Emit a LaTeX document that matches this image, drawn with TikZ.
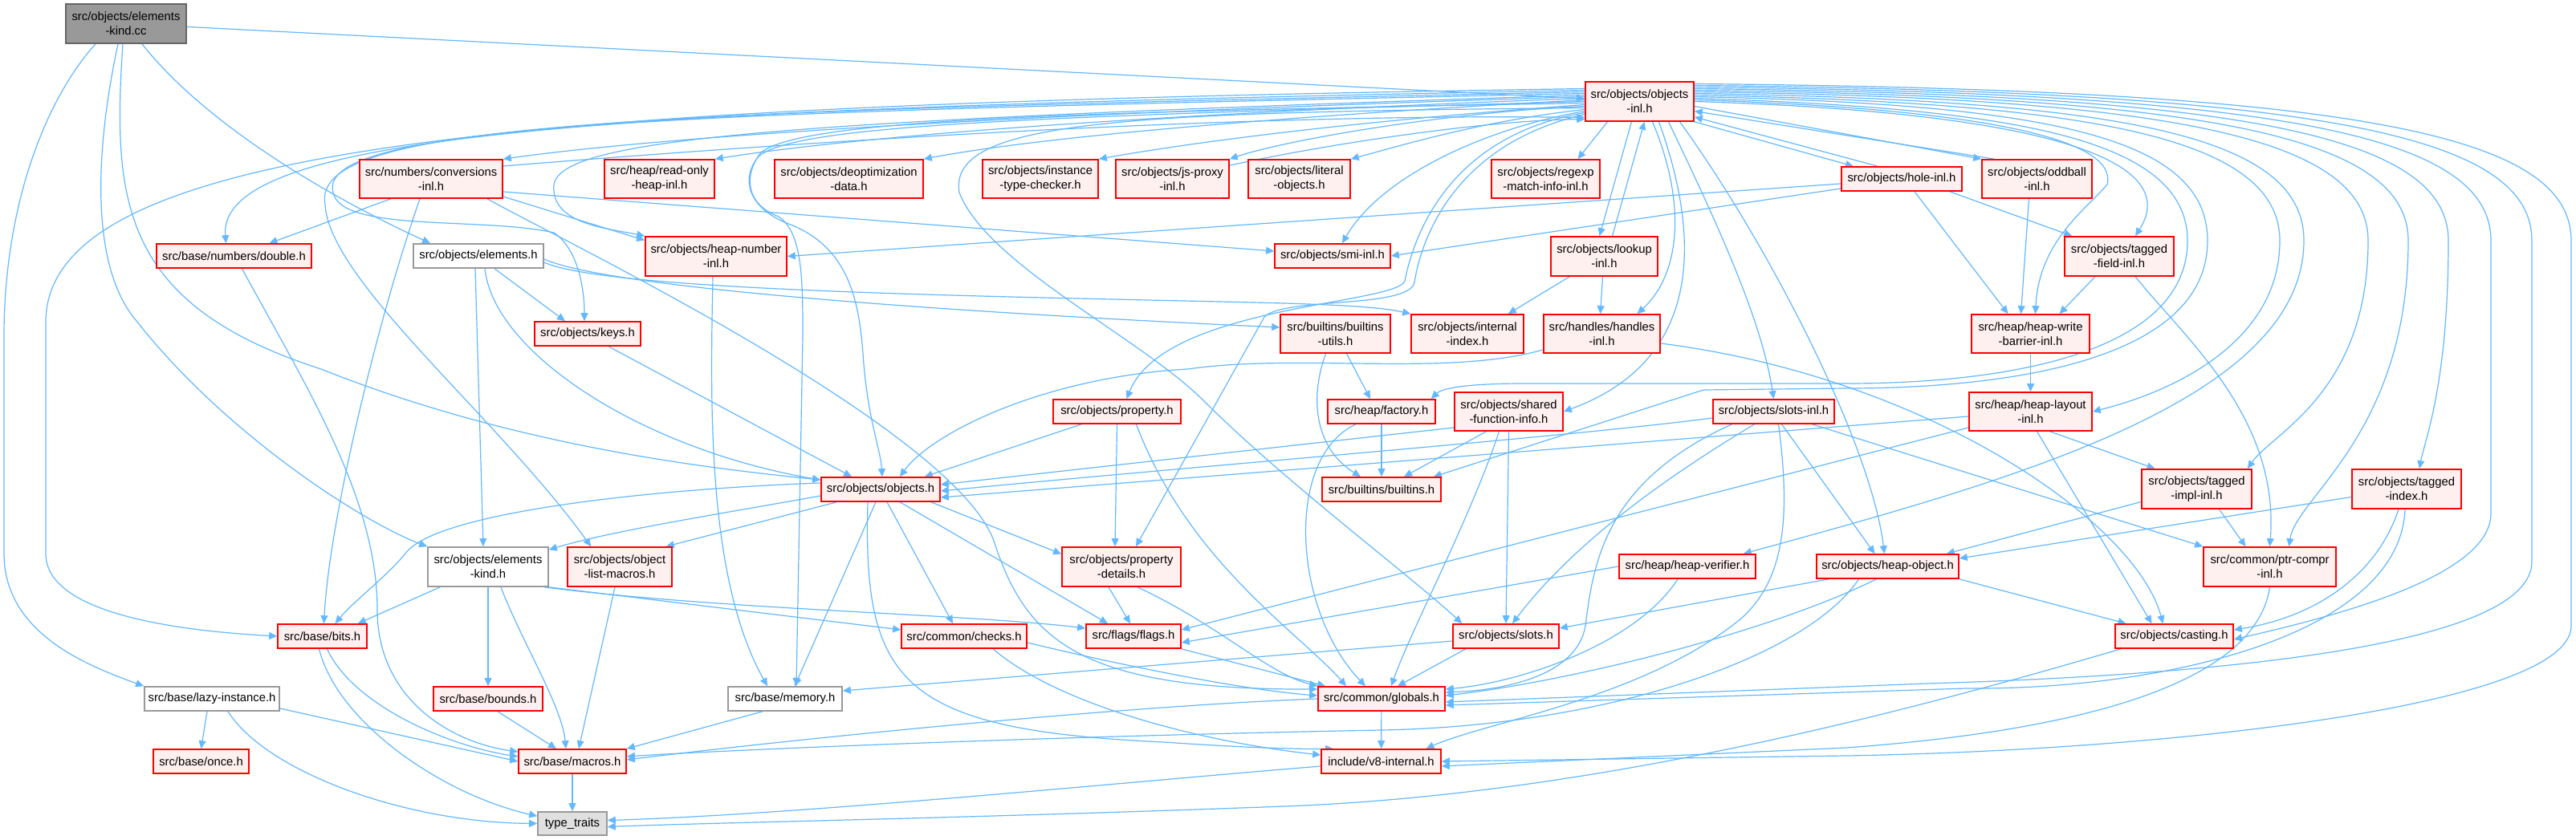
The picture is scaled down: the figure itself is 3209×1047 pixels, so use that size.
\documentclass[tikz,border=0pt]{standalone}
\usepackage{fontspec}
\setmainfont{Liberation Sans}
\usetikzlibrary{arrows.meta}
\definecolor{eb}{HTML}{63B8FF}
\definecolor{rb}{HTML}{FF0000}
\definecolor{rf}{HTML}{FFF0F0}
\definecolor{gb}{HTML}{999999}
\definecolor{db}{HTML}{666666}
\definecolor{tf}{HTML}{E0E0E0}
\pgfdeclarelayer{bg}
\pgfsetlayers{bg,main}
\begin{document}
\begin{tikzpicture}[x=0.5pt,y=-0.5pt,
  box/.style={draw, line width=0.8pt, inner sep=0pt, align=center, font=\fontsize{7.4}{9}\selectfont},
  rn/.style={box, draw=rb, fill=rf},
  wn/.style={box, draw=gb, fill=white},
  gn/.style={box, draw=db, fill=gb},
  tn/.style={box, draw=gb, fill=tf},
  sz/.style 2 args={minimum width=#1*0.5pt, minimum height=#2*0.5pt},
  e/.style={draw=eb, line width=0.6pt, -{Triangle[length=5pt,width=4.5pt]}}]
\useasboundingbox (0,0) rectangle (3209,1047);

\node[gn, sz={150}{49}] (ekcc) at (157,29.5) {src/objects/elements\\-kind.cc};
\node[rn, sz={135}{49}] (objinl) at (2042.5,126.5) {src/objects/objects\\-inl.h};
\node[rn, sz={178}{48}] (conv) at (537,223) {src/numbers/conversions\\-inl.h};
\node[rn, sz={137}{48}] (roheap) at (821.5,223) {src/heap/read-only\\-heap-inl.h};
\node[rn, sz={185}{48}] (deopt) at (1057.5,223) {src/objects/deoptimization\\-data.h};
\node[rn, sz={144}{48}] (itc) at (1296,223) {src/objects/instance\\-type-checker.h};
\node[rn, sz={141}{48}] (jsproxy) at (1460.5,223) {src/objects/js-proxy\\-inl.h};
\node[rn, sz={127}{48}] (literal) at (1618.5,223) {src/objects/literal\\-objects.h};
\node[rn, sz={135}{48}] (regexp) at (1925.5,223) {src/objects/regexp\\-match-info-inl.h};
\node[rn, sz={150}{30}] (hole) at (2369,223) {src/objects/hole-inl.h};
\node[rn, sz={137}{48}] (oddball) at (2537.5,223) {src/objects/oddball\\-inl.h};
\node[rn, sz={193}{30}] (double) at (291.5,319) {src/base/numbers/double.h};
\node[wn, sz={162}{30}] (elemh) at (596,319) {src/objects/elements.h};
\node[rn, sz={176}{49}] (heapnum) at (892,319.5) {src/objects/heap-number\\-inl.h};
\node[rn, sz={144}{30}] (smi) at (1660,319) {src/objects/smi-inl.h};
\node[rn, sz={133}{49}] (lookup) at (1998.5,319.5) {src/objects/lookup\\-inl.h};
\node[rn, sz={136}{49}] (tagfield) at (2640,319.5) {src/objects/tagged\\-field-inl.h};
\node[rn, sz={132}{30}] (keys) at (732,416) {src/objects/keys.h};
\node[rn, sz={137}{48}] (bu) at (1663.5,416) {src/builtins/builtins\\-utils.h};
\node[rn, sz={140}{48}] (iidx) at (1828,416) {src/objects/internal\\-index.h};
\node[rn, sz={145}{48}] (handles) at (1995.5,416) {src/handles/handles\\-inl.h};
\node[rn, sz={147}{48}] (hwb) at (2529.5,416) {src/heap/heap-write\\-barrier-inl.h};
\node[rn, sz={134}{30}] (factory) at (1721,513) {src/heap/factory.h};
\node[rn, sz={135}{48}] (sfi) at (1879.5,513) {src/objects/shared\\-function-info.h};
\node[rn, sz={151}{30}] (slotsinl) at (2209.5,513) {src/objects/slots-inl.h};
\node[rn, sz={153}{48}] (hlayout) at (2529.5,513) {src/heap/heap-layout\\-inl.h};
\node[rn, sz={159}{30}] (property) at (1391.5,513) {src/objects/property.h};
\node[rn, sz={148}{30}] (objh) at (1097,610) {src/objects/objects.h};
\node[rn, sz={148}{30}] (builtins) at (1721,610) {src/builtins/builtins.h};
\node[rn, sz={137}{49}] (timpl) at (2736.5,609.5) {src/objects/tagged\\-impl-inl.h};
\node[rn, sz={136}{49}] (tindex) at (2998,609.5) {src/objects/tagged\\-index.h};
\node[wn, sz={150}{49}] (ekh) at (608,706.5) {src/objects/elements\\-kind.h};
\node[rn, sz={130}{49}] (olm) at (772,706.5) {src/objects/object\\-list-macros.h};
\node[rn, sz={148}{49}] (pdet) at (1397,706.5) {src/objects/property\\-details.h};
\node[rn, sz={165}{49}] (ptrc) at (2827.5,706.5) {src/common/ptr-compr\\-inl.h};
\node[rn, sz={170}{30}] (hverif) at (2102,706) {src/heap/heap-verifier.h};
\node[rn, sz={177}{30}] (hobj) at (2351.5,706) {src/objects/heap-object.h};
\node[rn, sz={111}{30}] (bits) at (401.5,793) {src/base/bits.h};
\node[rn, sz={156}{30}] (checks) at (1201,793) {src/common/checks.h};
\node[rn, sz={118}{30}] (flags) at (1412,793) {src/flags/flags.h};
\node[rn, sz={132}{30}] (slots) at (1876,793) {src/objects/slots.h};
\node[rn, sz={147}{30}] (casting) at (2708.5,793) {src/objects/casting.h};
\node[wn, sz={168}{30}] (lazy) at (264,871) {src/base/lazy-instance.h};
\node[rn, sz={136}{30}] (bounds) at (608,871) {src/base/bounds.h};
\node[wn, sz={142}{30}] (memory) at (978,871) {src/base/memory.h};
\node[rn, sz={158}{30}] (globals) at (1721,871) {src/common/globals.h};
\node[rn, sz={119}{30}] (once) at (250.5,949) {src/base/once.h};
\node[rn, sz={134}{30}] (macros) at (713,949) {src/base/macros.h};
\node[rn, sz={149}{30}] (v8int) at (1720.5,949) {include/v8-internal.h};
\node[tn, sz={86}{29}] (tt) at (713,1026.5) {type\_traits};

\begin{pgfonlayer}{bg}
\fill[white] (0,0) rectangle (3209,1047);
% root
\draw[e] (ekcc) -- (objinl);
\draw[e] ([xshift=-19pt]ekcc.south) .. controls (60,120) and (5,250) .. (5,420) -- (5,690) .. controls (5,790) and (110,830) .. (lazy.north west);
\draw[e] ([xshift=-5pt]ekcc.south) .. controls (120,180) and (110,330) .. (170,400) .. controls (280,540) and (450,650) .. (ekh.north west);
\draw[e] ([xshift=-2pt]ekcc.south) .. controls (140,250) and (150,380) .. (400,460) .. controls (650,560) and (900,585) .. ([yshift=-2pt]objh.north west);
\draw[e] ([xshift=10pt]ekcc.south) .. controls (260,160) and (420,250) .. ([xshift=-30pt]elemh.north);

% objects-inl.h to the left
\draw[e] ([yshift=8pt]objinl.west) .. controls (700,130) and (60,170) .. (57,400) -- (57,690) .. controls (57,760) and (200,785) .. (bits.west);
\draw[e] ([yshift=7pt]objinl.west) .. controls (800,135) and (270,160) .. ([xshift=-5pt]double.north);
\draw[e] ([yshift=6pt]objinl.west) .. controls (800,140) and (385,150) .. (405,255) .. controls (410,350) and (620,520) .. ([xshift=15pt]olm.north west);
\draw[e] ([yshift=5pt]objinl.west) .. controls (900,140) and (390,150) .. (415,240) .. controls (425,290) and (600,270) .. (690,290) .. controls (720,310) and (728,360) .. ([xshift=-2pt]keys.north);
\draw[e] ([yshift=4pt]objinl.west) .. controls (1000,150) and (700,170) .. (690,230) .. controls (685,280) and (760,285) .. (heapnum.north west);
\draw[e] ([yshift=3pt]objinl.west) .. controls (1500,135) and (900,160) .. (conv.north east);
\draw[e] ([yshift=8pt]conv.east) .. controls (900,185) and (1500,140) .. ([yshift=-10pt]objinl.west);
\draw[e] ([yshift=2pt]objinl.west) .. controls (1500,140) and (1100,165) .. (roheap.north east);
\draw[e] ([yshift=1pt]objinl.west) .. controls (1600,145) and (1300,170) .. (deopt.north east);
\draw[e] (objinl.west) .. controls (1300,145) and (990,155) .. (945,195) .. controls (920,225) and (935,262) .. (985,280) .. controls (1060,310) and (1070,380) .. (1075,440) .. controls (1080,520) and (1097,560) .. ([xshift=1pt]objh.north);
\draw[e] ([yshift=-1pt]objinl.west) .. controls (1300,140) and (1000,150) .. (948,190) .. controls (925,220) and (930,255) .. (970,270) .. controls (1000,290) and (1000,350) .. (1000,420) -- ([xshift=7pt]memory.north);
\draw[e] ([yshift=-2pt]objinl.west) .. controls (1700,150) and (1500,175) .. (itc.north east);
\draw[e] ([yshift=-3pt]objinl.west) .. controls (1800,140) and (1600,175) .. (jsproxy.north east);
\draw[e] ([yshift=-4pt]jsproxy.north east) .. controls (1650,180) and (1850,150) .. ([yshift=-11pt]objinl.west);
\draw[e] ([yshift=-4pt]objinl.west) .. controls (1400,140) and (1180,150) .. (1195,240) .. controls (1230,330) and (1420,420) .. (1500,500) .. controls (1600,600) and (1760,720) .. ([xshift=6pt]slots.north west);
\draw[e] ([yshift=-5pt]objinl.west) .. controls (1850,150) and (1750,180) .. (literal.north east);
\draw[e] ([yshift=-6pt]objinl.west) .. controls (1850,160) and (1720,220) .. ([xshift=6pt]smi.north);
\draw[e] ([yshift=-7pt]objinl.west) .. controls (1800,170) and (1760,300) .. (1750,350) .. controls (1740,380) and (1450,380) .. ([xshift=6pt]property.north);
\draw[e] ([yshift=-8pt]objinl.west) .. controls (1810,180) and (1770,300) .. (1762,352) .. controls (1755,385) and (1600,370) .. (1575,395) -- ([xshift=9pt]pdet.north);

% objects-inl.h downward
\draw[e] ([xshift=-20pt]objinl.south) -- ([xshift=20pt]regexp.north);
\draw[e] ([xshift=-5pt]objinl.south) -- ([xshift=-3pt]lookup.north);
\draw[e] ([xshift=5pt]lookup.north) -- ([xshift=3pt]objinl.south);
\draw[e] ([xshift=8pt]objinl.south) .. controls (2100,250) and (2095,340) .. ([xshift=22pt]handles.north);
\draw[e] ([xshift=12pt]objinl.south) .. controls (2120,300) and (2120,450) .. (sfi.east);
\draw[e] ([xshift=18pt]objinl.south) .. controls (2140,280) and (2195,400) .. (slotsinl.north);
\draw[e] ([xshift=25pt]objinl.south) .. controls (2200,300) and (2330,550) .. ([xshift=-2pt]hobj.north);
\draw[e] (objinl.south east) -- ([xshift=-30pt]hole.north);
\draw[e] ([xshift=-15pt]hole.north) -- ([yshift=3pt]objinl.south east);
\draw[e] ([yshift=-3pt]objinl.east) -- (oddball.north west);
\draw[e] ([xshift=8pt]oddball.north west) -- ([yshift=-6pt]objinl.east);

% objects-inl.h to the right
\draw[e] (objinl.east) .. controls (2550,140) and (2720,200) .. ([xshift=10pt]tagfield.north);
\draw[e] ([yshift=1pt]objinl.east) .. controls (2450,135) and (2640,170) .. (2625,230) .. controls (2600,260) and (2540,300) .. ([xshift=3pt]hwb.north);
\draw[e] ([yshift=2pt]objinl.east) .. controls (2500,135) and (2725,170) .. (2725,300) .. controls (2725,440) and (2500,478) .. (2300,478) -- (1900,478) .. controls (1820,478) and (1795,485) .. ([xshift=-3pt]factory.north east);
\draw[e] ([yshift=3pt]objinl.east) .. controls (2550,130) and (2750,170) .. (2750,300) .. controls (2750,450) and (2500,484) .. (2300,484) -- (2122,486) -- ([xshift=-5pt]builtins.north east);
\draw[e] ([yshift=4pt]objinl.east) .. controls (2600,128) and (2840,170) .. (2840,300) .. controls (2840,430) and (2700,490) .. (hlayout.east);
\draw[e] ([yshift=5pt]objinl.east) .. controls (2650,125) and (2870,170) .. (2870,300) .. controls (2870,500) and (2500,600) .. ([xshift=-8pt]hverif.north east);
\draw[e] ([yshift=6pt]objinl.east) .. controls (2700,122) and (2950,170) .. (2950,300) .. controls (2950,490) and (2830,540) .. ([xshift=-3pt]timpl.north east);
\draw[e] ([yshift=7pt]objinl.east) .. controls (2750,120) and (3000,170) .. (3000,300) .. controls (3000,540) and (2860,620) .. ([xshift=12pt]ptrc.north);
\draw[e] ([yshift=8pt]objinl.east) .. controls (2800,118) and (3050,170) .. (3050,300) .. controls (3050,480) and (3020,550) .. ([xshift=8pt]tindex.north);
\draw[e] ([yshift=9pt]objinl.east) .. controls (2850,116) and (3103,170) .. (3103,300) -- (3103,640) .. controls (3103,720) and (2900,770) .. ([yshift=-2pt]casting.east);
\draw[e] ([yshift=10pt]objinl.east) .. controls (2900,114) and (3154,170) .. (3154,300) -- (3154,700) .. controls (3154,800) and (2800,840) .. (2400,852) -- ([yshift=-2pt]globals.east);
\draw[e] ([yshift=11pt]objinl.east) .. controls (2950,112) and (3203,170) .. (3203,300) -- (3203,780) .. controls (3203,880) and (2700,935) .. (2300,942) -- (v8int.east);

% conversions-inl.h
\draw[e] ([xshift=-25pt]conv.south) -- ([xshift=22pt]double.north);
\draw[e] ([yshift=-11pt]conv.east) -- ([yshift=10pt]heapnum.west);
\draw[e] ([yshift=-8pt]conv.east) -- ([yshift=3pt]smi.west);
\draw[e] ([xshift=-7pt]conv.south) .. controls (470,400) and (410,650) .. ([xshift=1pt]bits.north);
\draw[e] ([xshift=35pt]conv.south) .. controls (700,300) and (1200,540) .. (1240,680) .. controls (1280,800) and (1350,860) .. ([yshift=6pt]globals.west);

% hole / oddball / lookup / tagged-field
\draw[e] ([yshift=-3pt]hole.west) -- (heapnum.east);
\draw[e] ([yshift=-6pt]hole.west) -- (smi.east);
\draw[e] ([xshift=-8pt]hole.south east) -- ([xshift=5pt]tagfield.north west);
\draw[e] ([xshift=8pt]hole.south) -- ([xshift=-14pt]hwb.north);
\draw[e] ([xshift=-5pt]oddball.south) -- ([xshift=-6pt]hwb.north);
\draw[e] ([xshift=-15pt]tagfield.south) -- ([xshift=18pt]hwb.north);
\draw[e] ([xshift=10pt]tagfield.south) .. controls (2720,420) and (2840,520) .. (ptrc.north);
\draw[e] ([xshift=12pt]lookup.south west) -- ([xshift=-10pt]iidx.north east);
\draw[e] ([xshift=-1pt]lookup.south) -- ([xshift=-1pt]handles.north);

% elements.h / keys.h
\draw[e] ([xshift=-2pt]elemh.south) -- ([xshift=-3pt]ekh.north);
\draw[e] ([xshift=10pt]elemh.south) -- ([xshift=-14pt]keys.north);
\draw[e] ([yshift=-2pt]elemh.east) .. controls (760,360) and (1200,390) .. ([yshift=4pt]bu.west);
\draw[e] ([yshift=-4pt]elemh.east) .. controls (760,365) and (1300,370) .. (1600,378) .. controls (1700,381) and (1730,385) .. (iidx.north west);
\draw[e] ([xshift=4pt]elemh.south) .. controls (615,440) and (800,560) .. ([yshift=-2pt]objh.north west);
\draw[e] ([xshift=13pt]keys.south) -- ([xshift=-18pt]objh.north);

% heap-number
\draw[e] ([xshift=-2pt]heapnum.south) .. controls (885,500) and (880,720) .. ([xshift=-11pt]memory.north);

% objects.h
\draw[e] ([yshift=-4pt]objh.west) .. controls (900,640) and (760,662) .. ([yshift=-2pt]ekh.north east);
\draw[e] ([yshift=4pt]objh.west) .. controls (800,610) and (540,640) .. (505,690) .. controls (480,720) and (440,750) .. ([xshift=8pt]bits.north);
\draw[e] ([xshift=10pt]objh.south west) -- ([xshift=-4pt]olm.north east);
\draw[e] ([xshift=-3pt]objh.south) -- ([xshift=6pt]memory.north);
\draw[e] ([xshift=-8pt]objh.south) .. controls (1075,850) and (1120,910) .. (1450,925) .. controls (1550,932) and (1620,934) .. ([xshift=8pt]v8int.north west);
\draw[e] ([xshift=4pt]objh.south) -- ([xshift=-7pt]checks.north);
\draw[e] ([xshift=12pt]objh.south) -- ([xshift=-16pt]flags.north);
\draw[e] ([xshift=-6pt]objh.south east) -- ([yshift=8pt]pdet.west);

% property
\draw[e] ([xshift=18pt]property.south west) -- ([xshift=-10pt]objh.north east);
\draw[e] (property.south) -- ([xshift=-4pt]pdet.north);
\draw[e] ([xshift=12pt]property.south) .. controls (1480,700) and (1620,790) .. ([xshift=-22pt]globals.north);
\draw[e] ([xshift=-8pt]pdet.south) -- ([xshift=-2pt]flags.north);
\draw[e] ([xshift=10pt]pdet.south) .. controls (1520,780) and (1580,840) .. ([yshift=8pt]globals.west);

% handles
\draw[e] ([yshift=-10pt]handles.west) .. controls (1800,470) and (1620,440) .. (1480,460) .. controls (1300,470) and (1160,540) .. ([xshift=12pt]objh.north);
\draw[e] ([yshift=-6pt]handles.east) .. controls (2400,470) and (2660,650) .. ([xshift=-7pt]casting.north);

% builtins utils / factory / sfi
\draw[e] ([xshift=7pt]bu.south) -- ([xshift=-7pt]factory.north);
\draw[e] ([xshift=-6pt]bu.south) .. controls (1630,500) and (1640,560) .. ([xshift=-13pt]builtins.north);
\draw[e] (factory) -- (builtins);
\draw[e] ([xshift=-16pt]factory.south) .. controls (1600,570) and (1610,760) .. ([xshift=-10pt]globals.north);
\draw[e] ([yshift=-10pt]sfi.west) -- ([yshift=3pt]objh.east);
\draw[e] ([xshift=-14pt]sfi.south) -- ([xshift=14pt]builtins.north);
\draw[e] (sfi.south) -- (slots.north);
\draw[e] ([xshift=-6pt]sfi.south) .. controls (1830,650) and (1760,780) .. ([xshift=6pt]globals.north);

% heap write barrier / layout
\draw[e] (hwb) -- (hlayout);
\draw[e] ([yshift=-3pt]hlayout.west) -- ([yshift=-5pt]objh.east);
\draw[e] ([yshift=-10pt]hlayout.west) -- ([yshift=4pt]flags.east);
\draw[e] ([xshift=12pt]hlayout.south) -- ([xshift=-26pt]timpl.north);
\draw[e] ([xshift=4pt]hlayout.south) -- ([xshift=-14pt]casting.north);

% slots-inl.h
\draw[e] ([yshift=-4pt]slotsinl.west) .. controls (1950,545) and (1500,580) .. ([yshift=-1pt]objh.east);
\draw[e] ([xshift=-12pt]slotsinl.south) .. controls (2050,610) and (1950,690) .. ([xshift=4pt]slots.north);
\draw[e] ([xshift=-26pt]slotsinl.south) .. controls (2000,600) and (1985,700) .. (1975,780) .. controls (1965,840) and (1880,860) .. ([yshift=4pt]globals.east);
\draw[e] ([xshift=5pt]slotsinl.south) -- ([xshift=-8pt]hobj.north);
\draw[e] ([xshift=24pt]slotsinl.south) -- (ptrc.north west);
\draw[e] ([xshift=3pt]slotsinl.south) .. controls (2230,640) and (2225,720) .. (2170,770) .. controls (2050,870) and (1850,900) .. ([xshift=28pt]v8int.north);

% tagged impl / index / ptr-compr
\draw[e] ([yshift=-8pt]timpl.west) -- ([xshift=-8pt]hobj.north east);
\draw[e] ([xshift=14pt]timpl.south) -- ([xshift=-15pt]ptrc.north);
\draw[e] ([yshift=-5pt]tindex.west) -- ([yshift=5pt]hobj.east);
\draw[e] ([xshift=-5pt]tindex.south) .. controls (2960,720) and (2880,770) .. ([yshift=4pt]casting.east);
\draw[e] ([xshift=-1pt]tindex.south) .. controls (2990,790) and (2700,860) .. (2450,858) -- ([yshift=-4pt]globals.east);
\draw[e] (ptrc.south) .. controls (2810,850) and (2600,910) .. (2300,932) -- ([yshift=-3pt]v8int.east);

% heap verifier / heap object
\draw[e] (hverif.west) -- ([yshift=-4pt]flags.east);
\draw[e] ([xshift=-6pt]hverif.south) .. controls (2040,800) and (1900,850) .. ([yshift=6pt]globals.east);
\draw[e] ([xshift=8pt]hobj.south west) -- ([yshift=5pt]slots.east);
\draw[e] ([xshift=-7pt]hobj.south) .. controls (2200,790) and (1950,850) .. ([yshift=2pt]globals.east);
\draw[e] ([xshift=-18pt]hobj.south) .. controls (2250,820) and (2000,905) .. (1721,910) .. controls (1300,918) and (900,935) .. ([yshift=3pt]macros.east);
\draw[e] (hobj.south east) -- ([xshift=-30pt]casting.north);

% elements-kind.h
\draw[e] ([xshift=8pt]ekh.south west) -- ([xshift=-6pt]bits.north east);
\draw[e] (ekh.south) -- (bounds.north);
\draw[e] ([xshift=8pt]ekh.south) .. controls (650,800) and (700,880) .. ([xshift=-4pt]macros.north);
\draw[e] (ekh.south east) -- ([yshift=4pt]checks.west);
\draw[e] ([xshift=-3pt]ekh.south east) .. controls (900,760) and (1200,765) .. ([yshift=5pt]flags.west);

% lower layer
\draw[e] ([yshift=-4pt]checks.east) .. controls (1400,830) and (1550,860) .. ([yshift=2pt]globals.west);
\draw[e] ([xshift=18pt]checks.south) .. controls (1320,880) and (1500,925) .. ([yshift=4pt]v8int.west);
\draw[e] (flags.south east) -- ([xshift=5pt]globals.north west);
\draw[e] ([yshift=-3pt]slots.west) -- ([yshift=5pt]memory.east);
\draw[e] ([xshift=-25pt]slots.south) -- ([xshift=10pt]globals.north);
\draw[e] (globals) -- (v8int);
\draw[e] (globals.west) .. controls (1400,880) and (1000,920) .. ([yshift=1pt]macros.east);
\draw[e] ([xshift=-14pt]memory.south) -- (macros.north east);
\draw[e] ([xshift=-3pt]olm.south) -- ([xshift=4pt]macros.north);
\draw[e] ([xshift=6pt]bounds.south) -- ([xshift=-10pt]macros.north);
\draw[e] ([xshift=5pt]double.south) .. controls (380,480) and (470,620) .. (470,760) .. controls (470,870) and (560,925) .. ([yshift=6pt]macros.west);
\draw[e] ([xshift=3pt]bits.south) .. controls (440,880) and (560,930) .. ([yshift=3pt]macros.west);
\draw[e] ([xshift=-2pt]bits.south) .. controls (420,900) and (550,990) .. ([yshift=-3pt]tt.north west);
\draw[e] ([xshift=-3pt]lazy.south) -- (once.north);
\draw[e] ([yshift=-6pt]lazy.east) -- (macros.west);
\draw[e] ([xshift=10pt]lazy.south) .. controls (330,960) and (500,1025) .. (tt.west);
\draw[e] (macros) -- (tt);
\draw[e] ([xshift=4pt]casting.south west) .. controls (2400,880) and (2000,990) .. (1600,1005) .. controls (1200,1020) and (900,1025) .. ([yshift=-2pt]tt.east);
\draw[e] ([yshift=-3pt]v8int.west) .. controls (1400,975) and (1000,1015) .. ([yshift=2pt]tt.east);
\end{pgfonlayer}
\end{tikzpicture}
\end{document}
